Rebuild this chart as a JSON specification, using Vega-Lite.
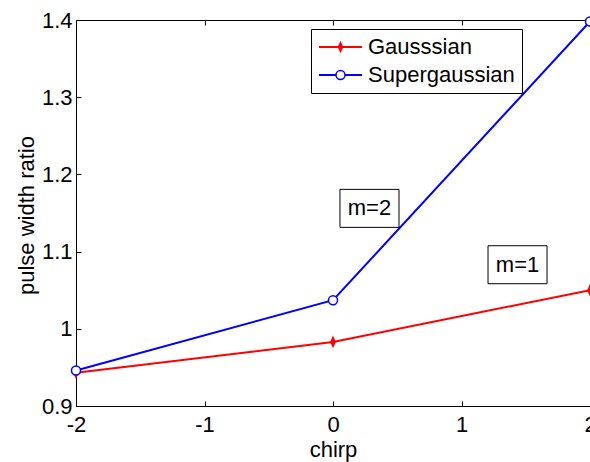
{
  "$schema": "https://vega.github.io/schema/vega-lite/v6.json",
  "width": 514,
  "height": 386,
  "autosize": {"type": "none"},
  "padding": {"left": 76, "top": 20, "right": 0, "bottom": 56},
  "background": "white",
  "datasets": {
    "curves": [
      {"chirp": -2, "ratio": 0.943, "series": "Gausssian"},
      {"chirp": 0, "ratio": 0.983, "series": "Gausssian"},
      {"chirp": 2, "ratio": 1.05, "series": "Gausssian"},
      {"chirp": -2, "ratio": 0.946, "series": "Supergaussian"},
      {"chirp": 0, "ratio": 1.037, "series": "Supergaussian"},
      {"chirp": 2, "ratio": 1.398, "series": "Supergaussian"}
    ],
    "notes": [
      {"label": "m=2", "cx": 0.284, "cy": 1.156},
      {"label": "m=1", "cx": 1.436, "cy": 1.083}
    ]
  },
  "config": {
    "font": "Liberation Sans",
    "view": {"stroke": "black", "strokeWidth": 1},
    "axis": {
      "grid": false,
      "domainColor": "black",
      "domainWidth": 1,
      "tickColor": "black",
      "tickWidth": 1,
      "labelColor": "black",
      "labelFont": "Liberation Sans",
      "labelFontSize": 22,
      "titleFont": "Liberation Sans",
      "titleFontSize": 22,
      "titleFontWeight": "normal",
      "titleColor": "black",
      "labelFlush": false,
      "labelOverlap": false,
      "labelBound": false
    }
  },
  "resolve": {"axis": {"x": "independent", "y": "independent"}},
  "layer": [
    {
      "data": {"name": "curves"},
      "mark": {"type": "line", "strokeWidth": 2},
      "encoding": {
        "x": {
          "field": "chirp", "type": "quantitative",
          "scale": {"domain": [-2, 2], "nice": false, "zero": false},
          "axis": {"orient": "bottom", "values": [-2, -1, 0, 1, 2], "ticks": false, "labelPadding": 8, "labelExpr": "datum.value < 0 ? '-' + format(-datum.value, 'd') : format(datum.value, 'd')", "title": "chirp", "titleY": 50, "titleBaseline": "alphabetic"}
        },
        "y": {
          "field": "ratio", "type": "quantitative",
          "scale": {"domain": [0.9, 1.4], "nice": false, "zero": false},
          "axis": {"orient": "left", "values": [0.9, 1, 1.1, 1.2, 1.3, 1.4], "ticks": false, "format": ".1~f", "labelPadding": 4, "title": "pulse width ratio", "titleX": -43, "titleY": 195, "titleBaseline": "alphabetic", "titleAngle": -90, "titleAlign": "center"}
        },
        "color": {
          "field": "series", "type": "nominal",
          "scale": {"domain": ["Gausssian", "Supergaussian"], "range": ["#ff0000", "#0000ff"]},
          "legend": {
            "orient": "none",
            "legendX": 235,
            "legendY": 9,
            "direction": "vertical",
            "title": null,
            "strokeColor": "black",
            "fillColor": "white",
            "padding": 7,
            "symbolType": "stroke",
            "symbolSize": 1849,
            "symbolStrokeWidth": 2,
            "clipHeight": 22,
            "rowPadding": 6,
            "labelOffset": 5,
            "labelFontSize": 22,
            "labelFont": "Liberation Sans",
            "labelColor": "black",
            "labelLimit": 0
          }
        }
      }
    },
    {
      "data": {"name": "curves"},
      "mark": {"type": "point", "size": 81, "strokeWidth": 1.5, "opacity": 1, "clip": false},
      "encoding": {
        "x": {"field": "chirp", "type": "quantitative", "axis": {"orient": "bottom", "values": [-2, -1, 0, 1, 2], "offset": -5, "tickSize": 5, "labels": false, "domain": false, "title": null}},
        "y": {"field": "ratio", "type": "quantitative", "axis": {"orient": "left", "values": [0.9, 1, 1.1, 1.2, 1.3, 1.4], "offset": -5, "tickSize": 5, "labels": false, "domain": false, "title": null}},
        "shape": {
          "field": "series", "type": "nominal",
          "scale": {"range": ["M0,-1L0.45,0L0,1L-0.45,0Z", "circle"]},
          "legend": {"orient": "none", "legendX": 252, "legendY": 9, "direction": "vertical", "title": null, "padding": 7, "symbolSize": 81, "symbolStrokeWidth": 1.5, "clipHeight": 22, "rowPadding": 6, "labelOffset": 5, "labelFontSize": 1, "labelOpacity": 0, "labelLimit": 0}
        },
        "fill": {
          "field": "series", "type": "nominal",
          "scale": {"range": ["#ff0000", "white"]},
          "legend": {"orient": "none", "legendX": 252, "legendY": 9, "direction": "vertical", "title": null, "padding": 7, "symbolSize": 81, "symbolStrokeWidth": 1.5, "clipHeight": 22, "rowPadding": 6, "labelOffset": 5, "labelFontSize": 1, "labelOpacity": 0, "labelLimit": 0}
        },
        "stroke": {
          "field": "series", "type": "nominal",
          "scale": {"range": ["#ff0000", "#0000ff"]},
          "legend": {"orient": "none", "legendX": 252, "legendY": 9, "direction": "vertical", "title": null, "padding": 7, "symbolSize": 81, "symbolStrokeWidth": 1.5, "clipHeight": 22, "rowPadding": 6, "labelOffset": 5, "labelFontSize": 1, "labelOpacity": 0, "labelLimit": 0}
        }
      }
    },
    {
      "data": {"name": "notes"},
      "mark": {"type": "rect", "fill": "white", "stroke": "black", "strokeWidth": 1, "xOffset": -29.5, "x2Offset": 29.5, "yOffset": 19, "y2Offset": -19},
      "encoding": {
        "x": {"field": "cx", "type": "quantitative", "axis": {"orient": "top", "values": [-2, -1, 0, 1, 2], "offset": -5, "tickSize": 5, "labels": false, "domain": false, "title": null}},
        "x2": {"field": "cx"},
        "y": {"field": "cy", "type": "quantitative", "axis": null},
        "y2": {"field": "cy"}
      }
    },
    {
      "data": {"name": "notes"},
      "mark": {"type": "text", "font": "Liberation Sans", "fontSize": 22, "color": "black", "align": "center", "baseline": "middle"},
      "encoding": {
        "x": {"field": "cx", "type": "quantitative", "axis": null},
        "y": {"field": "cy", "type": "quantitative", "axis": null},
        "text": {"field": "label"}
      }
    }
  ]
}
